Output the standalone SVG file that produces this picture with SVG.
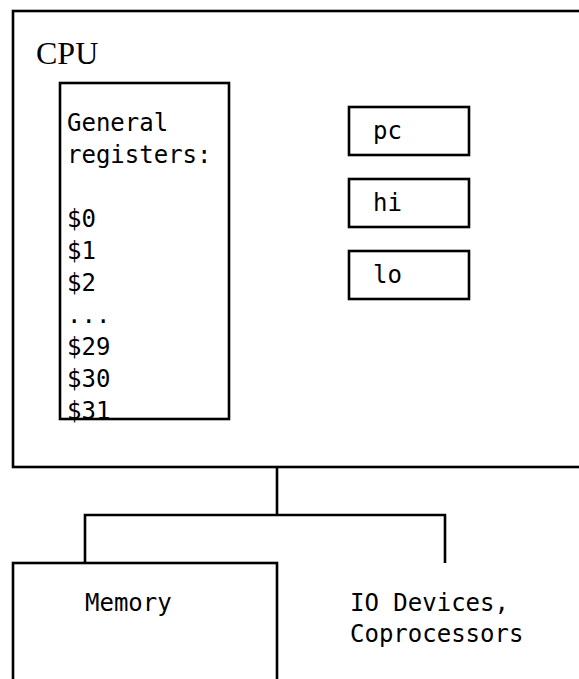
<svg xmlns="http://www.w3.org/2000/svg" width="579" height="679" viewBox="0 0 579 679">
<style>
.box{fill:#fff;stroke:#000;stroke-width:2.6}
.mono{font-family:"DejaVu Sans Mono","Liberation Mono",monospace;font-size:24px;fill:#000}
.serif{font-family:"Liberation Serif","Times New Roman",serif;font-size:32px;fill:#000}
.conn{fill:none;stroke:#000;stroke-width:2.6}
</style>
<rect width="579" height="679" fill="#fff"/>
<g id="cpu">
<rect class="box" x="13" y="11" width="590" height="456"/>
<text class="serif" x="36" y="64">CPU</text>
</g>
<g id="registers">
<rect class="box" x="60" y="83" width="169" height="336"/>
<text class="mono" x="67" y="131">General</text>
<text class="mono" x="67" y="163">registers:</text>
<text class="mono" x="67" y="227">$0</text>
<text class="mono" x="67" y="259">$1</text>
<text class="mono" x="67" y="291">$2</text>
<text class="mono" x="67" y="323">...</text>
<text class="mono" x="67" y="355">$29</text>
<text class="mono" x="67" y="387">$30</text>
<text class="mono" x="67" y="419">$31</text>
</g>
<g id="pc">
<rect class="box" x="349" y="107" width="120" height="48"/>
<text class="mono" x="373" y="139">pc</text>
</g>
<g id="hi">
<rect class="box" x="349" y="179" width="120" height="48"/>
<text class="mono" x="373" y="211">hi</text>
</g>
<g id="lo">
<rect class="box" x="349" y="251" width="120" height="48"/>
<text class="mono" x="373" y="283">lo</text>
</g>
<g id="connectors">
<path class="conn" d="M277 467 V515 M85 563 V515 H445 V563"/>
</g>
<g id="memory">
<rect class="box" x="13" y="563" width="264" height="140"/>
<text class="mono" x="85" y="611">Memory</text>
</g>
<g id="io">
<text class="mono" x="350" y="611">IO Devices,</text>
<text class="mono" x="350" y="642">Coprocessors</text>
</g>
</svg>
